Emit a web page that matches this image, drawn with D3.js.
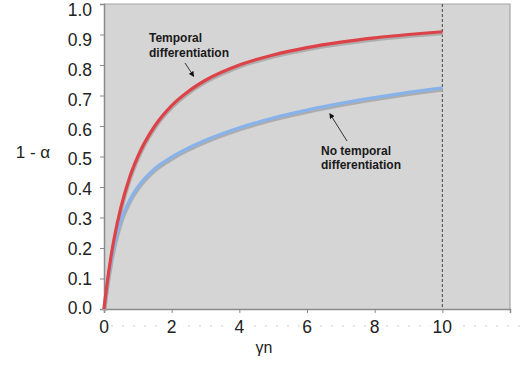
<!DOCTYPE html>
<html>
<head>
<meta charset="utf-8">
<script src="https://cdn.jsdelivr.net/npm/d3@7/dist/d3.min.js"></script>
<style>
  html, body { margin: 0; padding: 0; background: #ffffff; }
  svg { display: block; }
  text { font-family: "Liberation Sans", Arial, sans-serif; }
</style>
</head>
<body>
<svg id="chart" width="523" height="367"></svg>
<script>
// ---- data ----
const gammaN = [0, 0.05, 0.1, 0.2, 0.3, 0.5, 0.75, 1, 1.5, 2, 2.5, 3, 4, 5, 6, 7, 8, 9, 10];
const temporal = [0, 0.048, 0.091, 0.167, 0.231, 0.333, 0.429, 0.5, 0.6, 0.667, 0.714, 0.75, 0.8, 0.833, 0.857, 0.875, 0.889, 0.9, 0.909];
const noTemporal = [0, 0.045, 0.085, 0.152, 0.208, 0.29, 0.355, 0.4, 0.46, 0.498, 0.528, 0.553, 0.594, 0.626, 0.652, 0.674, 0.693, 0.71, 0.725];
const xTicks = [0, 2, 4, 6, 8, 10, 12];
const xTickLabels = ["0", "2", "4", "6", "8", "10", ""];
const yTicks = [0, 0.1, 0.2, 0.3, 0.4, 0.5, 0.6, 0.7, 0.8, 0.9, 1.0];
const yTickLabels = ["0.0", "0.1", "0.2", "0.3", "0.4", "0.5", "0.6", "0.7", "0.8", "0.9", "1.0"];
const markerX = 10;

const svg = d3.select("#chart");
const L = 104, R = 510, T = 4, B = 309;
const x = d3.scaleLinear().domain([0, 12]).range([L, R]);
const y = d3.scaleLinear().domain([0, 1]).range([B, T]);
const yLab = d3.scaleLinear().domain([0, 1]).range([308, 10]);

// dotted guide at label row
svg.append("line")
  .attr("x1", 100).attr("x2", 520).attr("y1", 326).attr("y2", 326)
  .attr("stroke", "#cfcfcf").attr("stroke-width", 1.2).attr("stroke-dasharray", "2,9");

// plot background
svg.append("rect").attr("x", L).attr("y", T).attr("width", R - L).attr("height", B - T)
  .attr("fill", "#d5d5d5");
// top & right border
svg.append("path").attr("d", `M${L},${T}H${R}V${B}`).attr("fill", "none")
  .attr("stroke", "#a6a6a6").attr("stroke-width", 1.2);

// axes
const xAxis = d3.axisBottom(x).tickValues(xTicks).tickSize(4).tickFormat(() => "");
const gx = svg.append("g").attr("transform", `translate(0,${B})`).call(xAxis);
gx.select(".domain").attr("stroke", "#8a8a8a").attr("stroke-width", 1.5);
gx.selectAll(".tick line").attr("stroke", "#8a8a8a");

const yAxis = d3.axisLeft(y).tickValues(yTicks).tickSize(4).tickFormat(() => "");
const gy = svg.append("g").attr("transform", `translate(${L},0)`).call(yAxis);
gy.select(".domain").attr("stroke", "#8a8a8a").attr("stroke-width", 1.5);
gy.selectAll(".tick line").attr("stroke", "#8a8a8a");

// tick labels (white background behind to cover guide)
const xl = svg.append("g");
xTicks.forEach((v, i) => {
  if (!xTickLabels[i]) return;
  const t = xl.append("text").attr("x", x(v)).attr("y", 333)
    .attr("text-anchor", "middle").attr("font-size", 17.5).attr("fill", "#222")
    .text(xTickLabels[i]);
  const bb = t.node().getBBox();
  xl.insert("rect", "text").attr("x", bb.x - 2).attr("y", 323).attr("width", bb.width + 4).attr("height", 6).attr("fill", "#fff");
});
yTicks.forEach((v, i) => {
  svg.append("text").attr("x", 92).attr("y", yLab(v)).attr("dy", "0.36em")
    .attr("text-anchor", "end").attr("font-size", 17.5).attr("fill", "#222")
    .text(yTickLabels[i]);
});

// axis titles
svg.append("text").attr("x", 33).attr("y", 152).attr("dy", "0.36em")
  .attr("text-anchor", "middle").attr("font-size", 17).attr("fill", "#222").text("1 - α");
svg.append("text").attr("x", 264).attr("y", 353)
  .attr("text-anchor", "middle").attr("font-size", 16).attr("fill", "#222").text("γn");

// vertical dashed marker
svg.append("line").attr("x1", x(markerX)).attr("x2", x(markerX)).attr("y1", T).attr("y2", B)
  .attr("stroke", "#444").attr("stroke-width", 1).attr("stroke-dasharray", "3,2");

// curves (blue first so red sits on top)
const line = d3.line().x(d => x(d[0])).y(d => y(d[1])).curve(d3.curveMonotoneX);
const series = [
  { vals: noTemporal, color: "#88b3ea" },
  { vals: temporal, color: "#dd4248" }
];
series.forEach(s => {
  const pts = gammaN.map((g, i) => [g, s.vals[i]]);
  svg.append("path").datum(pts).attr("d", line).attr("fill", "none")
    .attr("stroke", "#a9a9a9").attr("stroke-width", 3.5).attr("opacity", 0.9)
    .attr("transform", "translate(0.5,1.8)");
});
series.forEach(s => {
  const pts = gammaN.map((g, i) => [g, s.vals[i]]);
  svg.append("path").datum(pts).attr("d", line).attr("fill", "none")
    .attr("stroke", s.color).attr("stroke-width", 3.2);
});

// annotations
svg.append("defs").append("marker").attr("id", "ah")
  .attr("viewBox", "0 0 10 10").attr("refX", 8).attr("refY", 5)
  .attr("markerWidth", 6).attr("markerHeight", 6).attr("orient", "auto")
  .append("path").attr("d", "M0,0L10,5L0,10Z").attr("fill", "#111");

const ann1 = svg.append("text").attr("font-size", 12).attr("font-weight", "bold").attr("fill", "#1a1a1a");
ann1.append("tspan").attr("x", 149).attr("y", 42).text("Temporal");
ann1.append("tspan").attr("x", 149).attr("y", 57).text("differentiation");
svg.append("line").attr("x1", 185).attr("y1", 63).attr("x2", 193.5).attr("y2", 76)
  .attr("stroke", "#222").attr("stroke-width", 0.9).attr("marker-end", "url(#ah)");

const ann2 = svg.append("text").attr("font-size", 12).attr("font-weight", "bold").attr("fill", "#1a1a1a");
ann2.append("tspan").attr("x", 321).attr("y", 155).text("No temporal");
ann2.append("tspan").attr("x", 321).attr("y", 168.5).text("differentiation");
svg.append("line").attr("x1", 347).attr("y1", 141).attr("x2", 330).attr("y2", 114)
  .attr("stroke", "#222").attr("stroke-width", 0.9).attr("marker-end", "url(#ah)");
</script>
</body>
</html>
